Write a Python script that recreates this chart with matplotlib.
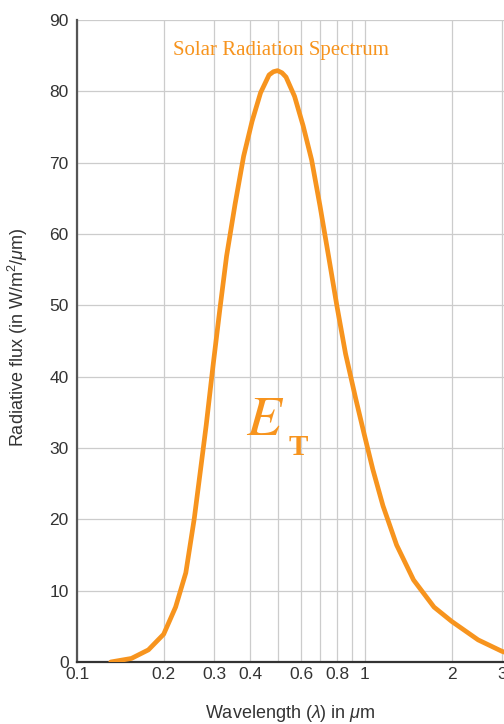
import numpy as np
import matplotlib
matplotlib.use("Agg")
import matplotlib.pyplot as plt

plt.rcParams['font.family'] = ['Liberation Sans', 'DejaVu Sans']
plt.rcParams['mathtext.fontset'] = 'custom'
plt.rcParams['mathtext.rm'] = 'Liberation Sans'
plt.rcParams['mathtext.it'] = 'Liberation Sans:italic'
plt.rcParams['mathtext.bf'] = 'Liberation Sans:bold'

# wavelength (um) and radiative flux (W/m2/um)
wavelength = [0.131, 0.1545, 0.177, 0.200, 0.220, 0.2387, 0.2554, 0.270, 0.281, 0.2967,
              0.3133, 0.3307, 0.354, 0.379, 0.4055, 0.434, 0.4645, 0.481, 0.497, 0.515,
              0.532, 0.5695, 0.6097, 0.6527, 0.6983, 0.7474, 0.800, 0.8564, 0.929, 0.9945,
              1.065, 1.155, 1.288, 1.475, 1.737, 2.000, 2.472, 2.990, 3.090]
flux = [0.0, 0.5, 1.7, 3.9, 7.7, 12.5, 20.1, 27.7, 33.2, 41.5,
        49.4, 56.9, 64.2, 70.9, 75.8, 79.8, 82.3, 82.75, 82.9, 82.6,
        82.0, 79.3, 75.2, 70.4, 63.9, 56.9, 49.8, 43.2, 36.9, 31.9,
        27.0, 21.9, 16.4, 11.5, 7.7, 5.7, 3.1, 1.5, 1.3]

grid_x = [0.1, 0.2, 0.3, 0.4, 0.5, 0.6, 0.7, 0.8, 0.9, 1, 2, 3]
grid_x_labels = ['0.1', '0.2', '0.3', '0.4', '', '0.6', '', '0.8', '', '1', '2', '3']
yticks = list(range(0, 91, 10))

orange = '#F7941E'

fig = plt.figure(figsize=(5.04, 7.24), dpi=100)
ax = fig.add_axes([77 / 504, 62 / 724, 1 - 77 / 504, 642 / 724])

ax.plot(wavelength, flux, color=orange, lw=3.4, solid_capstyle='round',
        solid_joinstyle='round', zorder=3)

ax.set_xscale('log')
ax.set_xlim(0.1, 3.04)
ax.set_ylim(0, 90)
ax.set_xticks(grid_x)
ax.set_xticklabels(grid_x_labels)
ax.xaxis.set_minor_locator(matplotlib.ticker.NullLocator())
ax.set_yticks(yticks)
ax.tick_params(axis='both', length=0, labelsize=12.5, colors='#333333')
ax.tick_params(axis='x', pad=3.5)
ax.tick_params(axis='y', pad=6)
ax.grid(True, color='#cccccc', lw=0.9)
ax.set_axisbelow(True)

for s in ['top', 'right']:
    ax.spines[s].set_visible(False)
ax.spines['left'].set_color('#555555')
ax.spines['left'].set_linewidth(1.6)
ax.spines['bottom'].set_color('#333333')
ax.spines['bottom'].set_linewidth(1.6)

# labels
fig.text(290 / 504, 1 - 714 / 724, r'Wavelength ($\lambda$) in $\mu$m', ha='center', va='center',
         fontsize=13, color='#333333')
fig.text(18 / 504, 1 - 337 / 724, r'Radiative flux (in W/m$^2$/$\mu$m)', ha='center', va='center',
         rotation=90, fontsize=13, color='#333333')

ax.text(0.478, 0.953, 'Solar Radiation Spectrum', transform=ax.transAxes, ha='center',
        va='center', fontsize=15, color=orange, family='Liberation Serif')
ax.text(0.397, 0.3536, 'E', transform=ax.transAxes, ha='left', va='baseline', fontsize=41,
        color=orange, family='STIXGeneral', style='italic')
ax.text(0.4965, 0.3224, 'T', transform=ax.transAxes, ha='left', va='baseline', fontsize=21,
        color=orange, family='Liberation Serif', weight='bold')

fig.savefig('out.png', dpi=100)
